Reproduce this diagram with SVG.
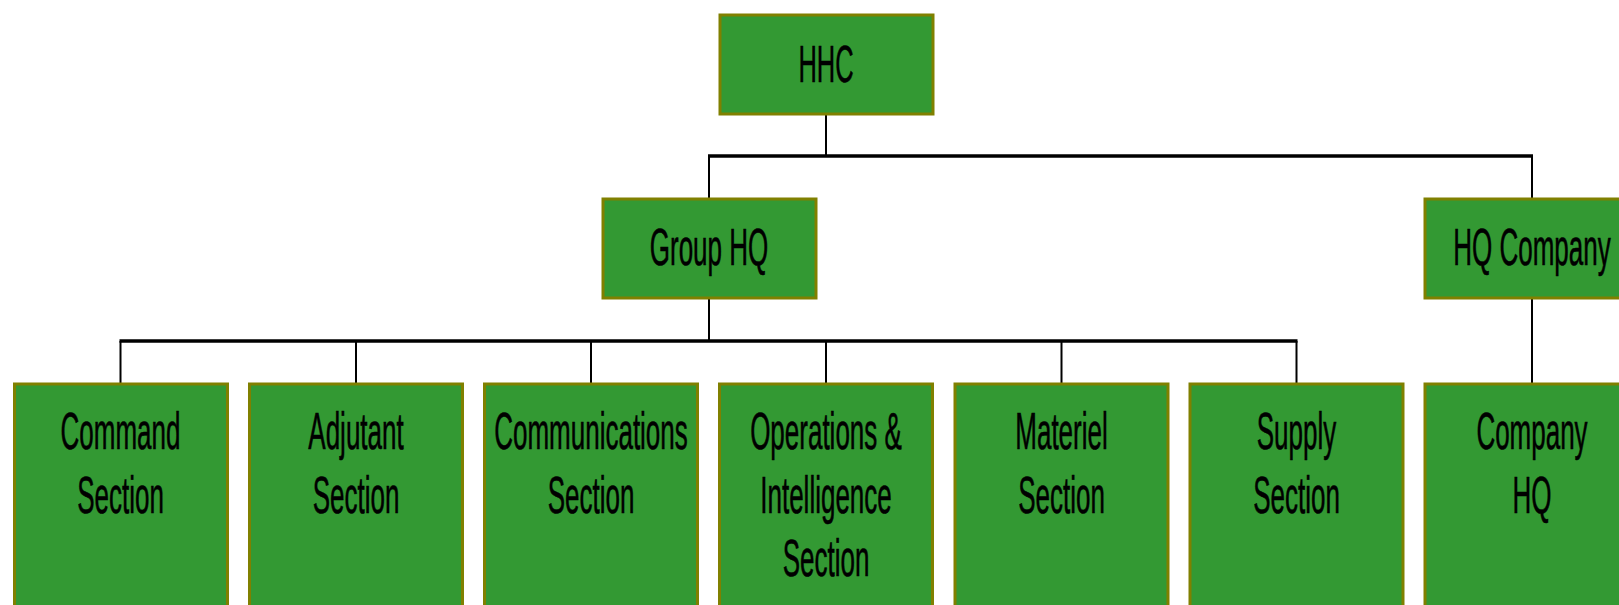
<svg xmlns="http://www.w3.org/2000/svg" width="1619" height="605" viewBox="0 0 1619 605">
<style>
.box{fill:#339933;stroke:#808000;stroke-width:3}
.lbl{font-family:"Liberation Sans",Arial,sans-serif;font-size:52px;fill:#000;text-anchor:middle;stroke:#000;stroke-width:0.6}
.bus{stroke:#000;stroke-width:3.5;fill:none}
.drop{stroke:#000;stroke-width:2;fill:none}
</style>
<rect width="1619" height="605" fill="#fff"/>
<g id="connectors">
<line class="drop" x1="826" y1="115" x2="826" y2="156"/>
<line class="bus" x1="708" y1="156" x2="1533" y2="156"/>
<line class="drop" x1="709" y1="156" x2="709" y2="198"/>
<line class="drop" x1="1532" y1="156" x2="1532" y2="198"/>
<line class="drop" x1="709" y1="299" x2="709" y2="341"/>
<line class="bus" x1="119.5" y1="341" x2="1297.5" y2="341"/>
<line class="drop" x1="120.5" y1="341" x2="120.5" y2="383"/>
<line class="drop" x1="356" y1="341" x2="356" y2="383"/>
<line class="drop" x1="591" y1="341" x2="591" y2="383"/>
<line class="drop" x1="826" y1="341" x2="826" y2="383"/>
<line class="drop" x1="1061.5" y1="341" x2="1061.5" y2="383"/>
<line class="drop" x1="1296.5" y1="341" x2="1296.5" y2="383"/>
<line class="drop" x1="1532" y1="299" x2="1532" y2="383"/>
</g>
<g id="hhc">
<rect class="box" x="720" y="15" width="213" height="99"/>
<text class="lbl" transform="translate(826 82) scale(0.49 1)">HHC</text>
</g>
<g id="group-hq">
<rect class="box" x="603" y="199" width="213" height="99"/>
<text class="lbl" transform="translate(709 265) scale(0.5 1)">Group HQ</text>
</g>
<g id="hq-company">
<rect class="box" x="1425" y="199" width="213" height="99"/>
<text class="lbl" transform="translate(1532 265) scale(0.5 1)">HQ Company</text>
</g>
<g id="command-section">
<rect class="box" x="14.5" y="384" width="213" height="240"/>
<text class="lbl" transform="translate(120.5 449) scale(0.5 1)">Command</text>
<text class="lbl" transform="translate(120.5 512.5) scale(0.5 1)">Section</text>
</g>
<g id="adjutant-section">
<rect class="box" x="249.5" y="384" width="213" height="240"/>
<text class="lbl" transform="translate(356 449) scale(0.5 1)">Adjutant</text>
<text class="lbl" transform="translate(356 512.5) scale(0.5 1)">Section</text>
</g>
<g id="communications-section">
<rect class="box" x="484.5" y="384" width="213" height="240"/>
<text class="lbl" transform="translate(591 449) scale(0.5 1)">Communications</text>
<text class="lbl" transform="translate(591 512.5) scale(0.5 1)">Section</text>
</g>
<g id="operations-intelligence-section">
<rect class="box" x="719.5" y="384" width="213" height="240"/>
<text class="lbl" transform="translate(826 449) scale(0.5 1)">Operations &amp;</text>
<text class="lbl" transform="translate(826 512.5) scale(0.5 1)">Intelligence</text>
<text class="lbl" transform="translate(826 576) scale(0.5 1)">Section</text>
</g>
<g id="materiel-section">
<rect class="box" x="955" y="384" width="213" height="240"/>
<text class="lbl" transform="translate(1061.5 449) scale(0.5 1)">Materiel</text>
<text class="lbl" transform="translate(1061.5 512.5) scale(0.5 1)">Section</text>
</g>
<g id="supply-section">
<rect class="box" x="1190" y="384" width="213" height="240"/>
<text class="lbl" transform="translate(1296.5 449) scale(0.5 1)">Supply</text>
<text class="lbl" transform="translate(1296.5 512.5) scale(0.5 1)">Section</text>
</g>
<g id="company-hq">
<rect class="box" x="1425" y="384" width="213" height="240"/>
<text class="lbl" transform="translate(1532 449) scale(0.5 1)">Company</text>
<text class="lbl" transform="translate(1532 512.5) scale(0.5 1)">HQ</text>
</g>
</svg>
